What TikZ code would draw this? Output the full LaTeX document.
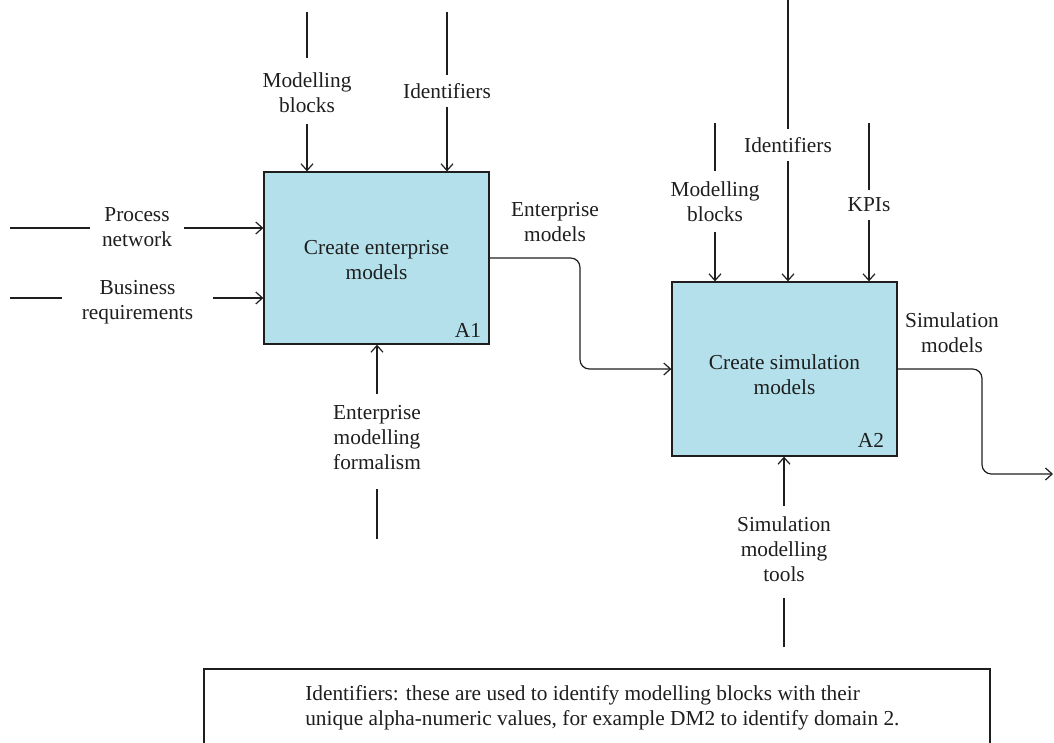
\documentclass[tikz,border=0pt]{standalone}
\usepackage{fontspec}
\setmainfont{Liberation Serif}
\usetikzlibrary{arrows.meta}
\definecolor{boxblue}{RGB}{179,224,234}
\definecolor{ink}{RGB}{30,30,30}
\begin{document}
\begin{tikzpicture}[x=0.75pt,y=-0.75pt,
  every node/.style={font=\fontsize{16}{18.75}\selectfont, text=ink},
  line/.style={draw=ink, line width=0.9pt},
  arr/.style={line, -{Straight Barb[length=5pt,width=9pt]}},
  proc/.style={draw=ink, line width=1pt, fill=boxblue, inner sep=0pt},
  lbl/.style={align=center, inner xsep=9pt, inner ysep=8pt},
  tag/.style={inner sep=0pt}]
\useasboundingbox (0,0) rectangle (1054,743);

% process boxes
\node[proc, minimum width=168.75pt, minimum height=129pt] (A1) at (376.5,258) {};
\node[proc, minimum width=168.75pt, minimum height=130.5pt] (A2) at (784.5,369) {};
\node[align=center, inner sep=0pt] (A1txt) at (376.5,260) {Create enterprise\\models};
\node[align=center, inner sep=0pt] (A2txt) at (784.5,375) {Create simulation\\models};
\node[tag] (A1id) at (468,330) {A1};
\node[tag] (A2id) at (871,440) {A2};

% labels
\node[lbl] (mb1) at (307,93) {Modelling\\blocks};
\node[lbl, inner ysep=6pt] (id1) at (447,91) {Identifiers};
\node[lbl] (pn) at (137,227) {Process\\network};
\node[lbl, inner xsep=15pt] (br) at (137.5,302) {Business\\requirements};
\node[lbl] (emf) at (377,437.5) {Enterprise\\modelling\\formalism};
\node[lbl] (em) at (555,222) {Enterprise\\models};
\node[lbl] (mb2) at (715,201.5) {Modelling\\blocks};
\node[lbl, inner ysep=6pt] (id2) at (788,145) {Identifiers};
\node[lbl, inner ysep=6pt] (kpi) at (869,205) {KPIs};
\node[lbl] (sm) at (952,333) {Simulation\\models};
\node[lbl] (smt) at (784,549) {Simulation\\modelling\\tools};

% free ends
\coordinate (mb1t) at (307,12);
\coordinate (id1t) at (447,12);
\coordinate (pnl) at (10,228);
\coordinate (brl) at (10,298);
\coordinate (emfb) at (377,539);
\coordinate (mb2t) at (715,123);
\coordinate (id2t) at (788,0);
\coordinate (kpit) at (869,123);
\coordinate (smtb) at (784,647);
\coordinate (k1) at (580,369);
\coordinate (k2) at (982,474);
\coordinate (out2) at (1053,474);

% A1 controls / inputs / mechanism
\draw[line, shorten >=3pt] (mb1t) -- (mb1);
\draw[arr] (mb1) -- (mb1 |- A1.north);
\draw[line] (id1t) -- (id1);
\draw[arr] (id1) -- (id1 |- A1.north);
\draw[line] (pnl) -- (pnl -| pn.west);
\draw[arr] (pnl -| pn.east) -- (pnl -| A1.west);
\draw[line] (brl) -- (brl -| br.west);
\draw[arr] (brl -| br.east) -- (brl -| A1.west);
\draw[line, shorten >=6pt] (emfb) -- (emf);
\draw[arr] (emf) -- (emf |- A1.south);

% A1 -> A2
\draw[arr, rounded corners=7pt] (A1.east) -| (k1) -- (A2.west);

% A2 controls / mechanism
\draw[line] (mb2t) -- (mb2);
\draw[arr] (mb2) -- (mb2 |- A2.north);
\draw[line] (id2t) -- (id2);
\draw[arr] (id2) -- (id2 |- A2.north);
\draw[line] (kpit) -- (kpi);
\draw[arr] (kpi) -- (kpi |- A2.north);
\draw[line, shorten >=4.5pt] (smtb) -- (smt);
\draw[arr] (smt) -- (smt |- A2.south);

% A2 output
\draw[arr, rounded corners=7pt] (A2.east) -| (k2) -- (out2);

% note
\draw[line] (204,775) -- (204,669) -- (990,669) -- (990,775);
\node[anchor=west, align=left, inner sep=0pt] (note) at (305,708)
  {Identifiers: these are used to identify modelling blocks with their\\
   unique alpha-numeric values, for example DM2 to identify domain 2.};
\end{tikzpicture}
\end{document}
